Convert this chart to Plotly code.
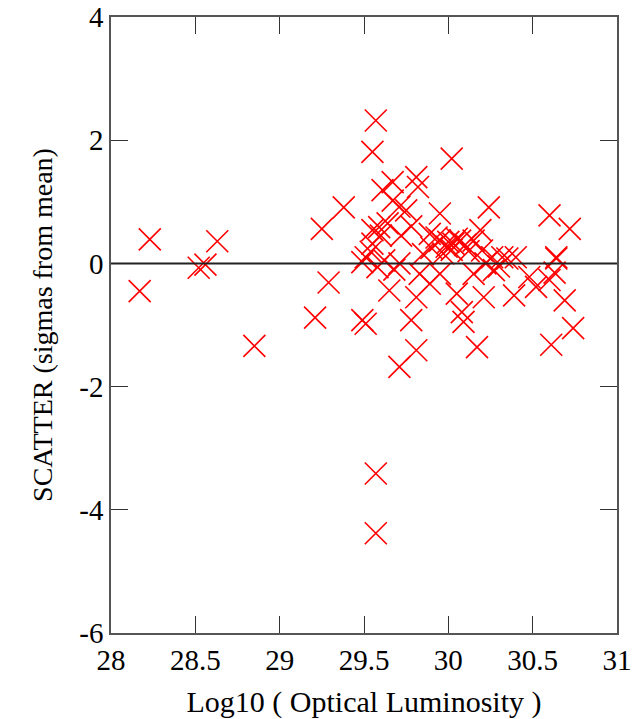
import plotly.graph_objects as go

# Data
log_lum = [
    28.17, 28.23, 28.52, 28.56, 28.63, 28.85,
    29.21, 29.25, 29.29, 29.38, 29.49, 29.51, 29.49, 29.54, 29.51, 29.55, 29.55, 29.59,
    29.57, 29.57, 29.57, 29.55, 29.61, 29.67, 29.67, 29.71, 29.75, 29.81, 29.82,
    29.58, 29.62, 29.65, 29.68, 29.71, 29.72, 29.78, 29.81, 29.81, 29.78, 29.71, 29.83,
    29.89, 29.85, 29.90, 29.93, 29.95, 29.95, 29.97, 29.99, 30.00, 30.02, 30.03, 30.05,
    30.07, 29.89, 29.95, 30.02, 30.05, 30.08, 30.09, 30.10, 30.12, 30.15, 30.15,
    30.17, 30.19, 30.20, 30.21, 30.22, 30.24, 30.26, 30.27, 30.30, 30.32, 30.35,
    30.39, 30.40, 30.48, 30.52, 30.60, 30.60, 30.61, 30.64, 30.64, 30.63, 30.69,
    30.72, 30.74, 29.60, 29.64,
]
scatter_sigma = [
    -0.45, 0.39, -0.07, -0.02, 0.36, -1.34,
    -0.88, 0.56, -0.31, 0.91, -0.92, -0.98, 0.02, 0.19, 0.10, 0.32, 0.54, 0.59,
    2.32, -3.41, -4.38, 1.81, 1.19, 1.32, 1.02, 0.92, 0.86, 1.40, 1.24,
    -0.06, 0.05, -0.44, -0.10, 0.00, 0.45, -0.92, -0.55, -1.41, 0.60, -1.68, -0.17,
    -0.33, 0.15, 0.25, 0.42, -0.17, 0.37, 0.16, 0.27, 0.35, 1.70, 0.32, -0.49,
    0.37, 0.48, 0.81, 0.22, 0.40, -0.79, -0.95, 0.30, 0.20, 0.37, -0.17,
    -1.36, 0.54, 0.21, -0.55, 0.00, 0.91, 0.10, -0.11, -0.05, 0.10, 0.08,
    -0.52, 0.10, -0.22, -0.38, 0.78, -0.27, -1.32, 0.08, 0.10, -0.15, -0.60,
    0.56, -1.05, 0.45, 0.65,
]

x_ticks = [28, 28.5, 29, 29.5, 30, 30.5, 31]
y_ticks = [-6, -4, -2, 0, 2, 4]

font_family = "Liberation Serif, Times New Roman, serif"

fig = go.Figure()
fig.add_trace(go.Scatter(
    x=log_lum, y=scatter_sigma, mode="markers",
    marker=dict(symbol="x-thin-open", size=22, color="#ff0000",
                line=dict(color="#ff0000", width=1.6)),
    showlegend=False, hoverinfo="skip", cliponaxis=False,
))

axis_common = dict(
    showgrid=False, zeroline=False, showline=True, mirror="ticks",
    linecolor="#555555", linewidth=1.5, ticks="inside", ticklen=17,
    tickcolor="#333333", tickwidth=1, automargin=False,
    ticklabeloverflow="allow",
    tickfont=dict(family=font_family, size=29, color="black"),
)

fig.update_layout(
    width=633, height=719,
    margin=dict(l=111, r=16, t=17, b=86),
    plot_bgcolor="white", paper_bgcolor="white",
    font=dict(family=font_family, color="black"),
    xaxis=dict(range=[28, 31], tickvals=x_ticks,
               ticktext=[f"{v:g}" for v in x_ticks],
               title=dict(text="Log10 ( Optical Luminosity )",
                          font=dict(family=font_family, size=30), standoff=17),
               **axis_common),
    yaxis=dict(range=[-6, 4], tickvals=y_ticks,
               ticktext=[f"{v:g}" for v in y_ticks],
               title=dict(text="SCATTER (sigmas from mean)",
                          font=dict(family=font_family, size=28), standoff=18),
               **axis_common),
    shapes=[dict(type="line", xref="x", yref="y", x0=28, x1=31, y0=0, y1=0,
                 line=dict(color="#222222", width=2))],
)

fig.write_html("out.html", config={"displayModeBar": False},
               post_script="document.body.style.margin='0';")
